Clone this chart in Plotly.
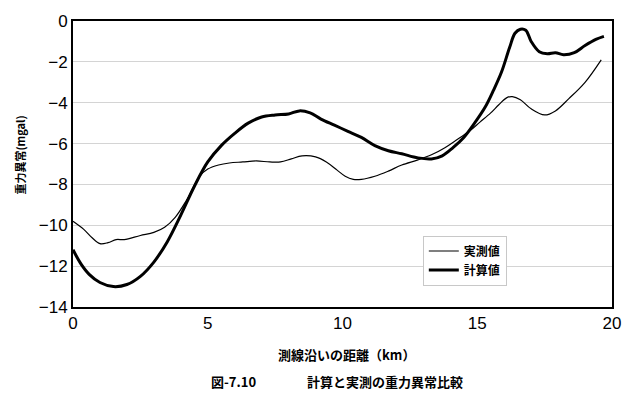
import plotly.graph_objects as go

# 実測値 (observed)
obs_x = [0, 0.4, 0.7, 1.0, 1.3, 1.6, 1.9, 2.5, 3.0, 3.4, 3.8, 4.2, 4.7, 5.0, 5.4, 5.8, 6.3, 6.8, 7.3, 7.7, 8.1, 8.5, 9.0, 9.4, 9.8, 10.1, 10.4, 10.7, 11.2, 11.7, 12.2, 12.8, 13.3, 13.8, 14.2, 14.7, 15.1, 15.5, 15.8, 16.1, 16.3, 16.6, 17.0, 17.5, 17.9, 18.4, 19.0, 19.6]
obs_y = [-9.8, -10.2, -10.6, -10.9, -10.85, -10.7, -10.7, -10.5, -10.35, -10.1, -9.6, -8.8, -7.6, -7.25, -7.05, -6.95, -6.9, -6.85, -6.9, -6.9, -6.75, -6.6, -6.65, -6.9, -7.3, -7.6, -7.75, -7.75, -7.6, -7.35, -7.05, -6.8, -6.55, -6.2, -5.85, -5.4, -4.95, -4.5, -4.1, -3.75, -3.7, -3.85, -4.3, -4.6, -4.4, -3.8, -3.0, -1.9]

# 計算値 (calculated)
cal_x = [0, 0.3, 0.6, 1.0, 1.5, 2.0, 2.5, 3.0, 3.5, 4.0, 4.5, 5.0, 5.5, 6.0, 6.5, 7.0, 7.5, 8.0, 8.4, 8.8, 9.2, 9.7, 10.2, 10.7, 11.2, 11.7, 12.2, 12.8, 13.3, 13.7, 14.1, 14.5, 14.9, 15.3, 15.6, 15.9, 16.2, 16.4, 16.6, 16.8, 17.0, 17.3, 17.6, 17.9, 18.2, 18.6, 19.0, 19.4, 19.7]
cal_y = [-11.2, -11.9, -12.4, -12.8, -13.0, -12.9, -12.5, -11.8, -10.8, -9.5, -8.1, -6.9, -6.1, -5.5, -5.0, -4.7, -4.6, -4.55, -4.4, -4.5, -4.8, -5.1, -5.4, -5.7, -6.1, -6.35, -6.5, -6.7, -6.75, -6.6, -6.2, -5.7, -5.0, -4.2, -3.4, -2.5, -1.3, -0.6, -0.4, -0.45, -1.0, -1.5, -1.6, -1.55, -1.65, -1.55, -1.2, -0.9, -0.75]

x_ticks = [0, 5, 10, 15, 20]
y_ticks = [0, -2, -4, -6, -8, -10, -12, -14]
y_tick_text = ["0"] + ["\u2212" + str(-v) for v in y_ticks[1:]]

FONT = "Liberation Sans, Arial, Noto Sans CJK JP, sans-serif"
CJK = "Noto Sans CJK JP, sans-serif"

fig = go.Figure()
fig.add_trace(go.Scatter(x=obs_x, y=obs_y, mode="lines", name="実測値",
                         line=dict(color="black", width=1.2, shape="spline", smoothing=1.0)))
fig.add_trace(go.Scatter(x=cal_x, y=cal_y, mode="lines", name="計算値",
                         line=dict(color="black", width=3, shape="spline", smoothing=1.0)))

fig.update_layout(
    width=637, height=397,
    margin=dict(l=73, r=25, t=21, b=90),
    paper_bgcolor="white", plot_bgcolor="white",
    font=dict(family=FONT, color="black"),
    showlegend=True,
    legend=dict(x=0.649, y=0.25, xanchor="left", yanchor="top",
                bgcolor="white", bordercolor="#c8c8c8", borderwidth=1,
                font=dict(family=CJK, size=12, weight="bold"), tracegroupgap=0,
                itemwidth=30),
    xaxis=dict(range=[0, 20], tickvals=x_ticks, ticktext=[str(v) for v in x_ticks],
               tickfont=dict(size=17), showgrid=False, zeroline=False,
               showline=True, linecolor="black", linewidth=2, mirror=True,
               ticks="", ticklen=0),
    yaxis=dict(range=[-14, 0], tickvals=y_ticks, ticktext=y_tick_text,
               tickfont=dict(size=17), showgrid=True, gridcolor="#d4d4d4", gridwidth=1,
               zeroline=False, showline=True, linecolor="black", linewidth=2, mirror=True,
               ticks="", ticklen=0),
    annotations=[
        dict(text="重力異常(mgal)", x=-0.098, y=0.53, xref="paper", yref="paper",
             xanchor="center", yanchor="middle",
             textangle=-90, showarrow=False, font=dict(family=CJK, size=11, weight="bold")),
        dict(text="測線沿いの距離（km）", x=0.508, y=-0.165, xref="paper", yref="paper",
             showarrow=False, font=dict(family=CJK, size=13, weight="bold"),
             xanchor="center", yanchor="middle"),
        dict(text="図-7.10", x=0.253, y=-0.262, xref="paper", yref="paper",
             showarrow=False, font=dict(family=CJK, size=13, weight="bold"), xanchor="left", yanchor="middle"),
        dict(text="計算と実測の重力異常比較", x=0.43, y=-0.262, xref="paper", yref="paper",
             showarrow=False, font=dict(family=CJK, size=13, weight="bold"), xanchor="left", yanchor="middle"),
    ],
)

fig.write_html("out.html", config={"displayModeBar": False},
               post_script="document.body.style.margin='0px';")
